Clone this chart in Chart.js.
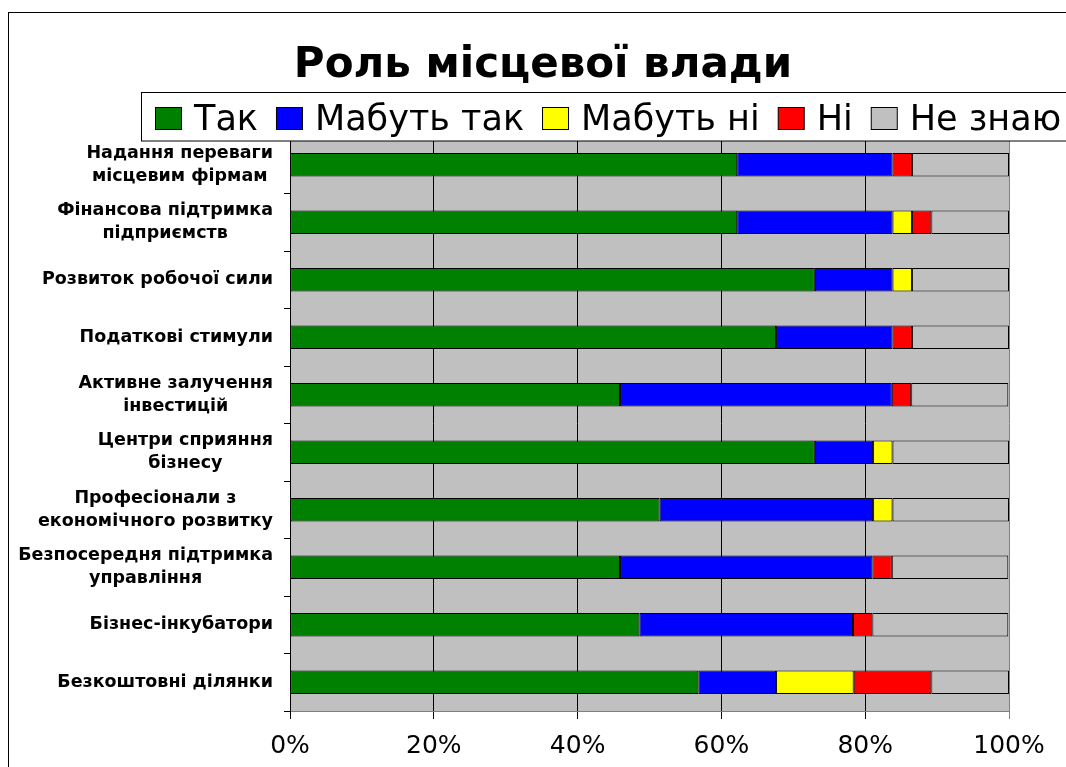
<!DOCTYPE html>
<html><head><meta charset="utf-8">
<script src="https://cdn.jsdelivr.net/npm/chart.js@4/dist/chart.umd.min.js"></script>
<style>html,body{margin:0;padding:0;background:#fff;}#wrap{width:1066px;height:767px;}</style>
</head><body><div id="wrap"><canvas id="c" width="1066" height="767"></canvas></div>
<script>
const chartTitle = 'Роль місцевої влади';
const categories = [
  ['Надання переваги', 'місцевим фірмам'],
  ['Фінансова підтримка', 'підприємств'],
  ['Розвиток робочої сили'],
  ['Податкові стимули'],
  ['Активне залучення', 'інвестицій'],
  ['Центри сприяння', 'бізнесу'],
  ['Професіонали з', 'економічного розвитку'],
  ['Безпосередня підтримка', 'управління'],
  ['Бізнес-інкубатори'],
  ['Безкоштовні ділянки']
];
const seriesNames = ['Так', 'Мабуть так', 'Мабуть ні', 'Ні', 'Не знаю'];
const yesValues         = [62.2, 62.2, 73.0, 67.6, 45.9, 73.0, 51.4, 45.9, 48.6, 56.8];
const probablyYesValues = [21.6, 21.6, 10.8, 16.2, 37.8,  8.1, 29.7, 35.1, 29.7, 10.8];
const probablyNoValues  = [ 0.0,  2.7,  2.7,  0.0,  0.0,  2.7,  2.7,  0.0,  0.0, 10.8];
const noValues          = [ 2.7,  2.7,  0.0,  2.7,  2.7,  0.0,  0.0,  2.7,  2.7, 10.8];
const dontKnowValues    = [13.5, 10.8, 13.5, 13.5, 13.5, 16.2, 16.2, 16.2, 18.9, 10.8];
const xTickLabels = ['0%', '20%', '40%', '60%', '80%', '100%'];
const seriesColors = ['#008000', '#0000FF', '#FFFF00', '#FF0000', '#C0C0C0'];

const seriesValues = [yesValues, probablyYesValues, probablyNoValues, noValues, dontKnowValues];
const FONT = "'DejaVu Sans', 'Liberation Sans', Arial, sans-serif";
Chart.defaults.font.family = FONT;

const deco = {
  id: 'deco',
  beforeDraw(chart) {
    const { ctx, chartArea: a } = chart;
    ctx.save();
    ctx.fillStyle = '#fff';
    ctx.fillRect(0, 0, chart.width, chart.height);
    ctx.strokeStyle = '#000';
    ctx.lineWidth = 1;
    ctx.strokeRect(8.5, 12.5, chart.width + 40, chart.height + 40);
    ctx.fillStyle = '#C0C0C0';
    ctx.fillRect(a.left, a.top, a.right - a.left, a.bottom - a.top);
    ctx.restore();
  },
  afterDraw(chart) {
    const { ctx } = chart;
    const ys = chart.scales.y;
    ctx.save();
    // category labels: block right-aligned, lines centred within block
    ctx.font = 'bold 17.5px ' + FONT;
    ctx.fillStyle = '#000';
    ctx.textAlign = 'center';
    ctx.textBaseline = 'middle';
    chart.data.labels.forEach((lab, i) => {
      const lines = Array.isArray(lab) ? lab : [lab];
      const w = Math.max(...lines.map(l => ctx.measureText(l).width));
      const cx = 273 - w / 2;
      const cy = ys.getPixelForValue(i);
      lines.forEach((l, j) => {
        ctx.fillText(l, cx, cy + (j - (lines.length - 1) / 2) * 23);
      });
    });
    // title
    ctx.font = 'bold 42px ' + FONT;
    ctx.textBaseline = 'alphabetic';
    ctx.fillText(chartTitle, 543, 77);
    // legend frame
    ctx.fillStyle = '#fff';
    ctx.fillRect(141.5, 92.5, 1000, 48.5);
    ctx.strokeStyle = '#000';
    ctx.lineWidth = 1;
    ctx.strokeRect(141.5, 92.5, 1000, 48.5);
    // legend items
    ctx.font = '35px ' + FONT;
    ctx.textAlign = 'left';
    let x = 155;
    chart.data.datasets.forEach(ds => {
      ctx.fillStyle = ds.backgroundColor;
      ctx.fillRect(x + 0.5, 107.5, 26, 22);
      ctx.strokeStyle = '#000';
      ctx.strokeRect(x + 0.5, 107.5, 26, 22);
      ctx.fillStyle = '#000';
      ctx.fillText(ds.label, x + 39, 130);
      x += 39 + ctx.measureText(ds.label).width + 18;
    });
    ctx.restore();
  }
};

new Chart(document.getElementById('c'), {
  type: 'bar',
  data: {
    labels: categories,
    datasets: seriesNames.map((name, k) => ({
      label: name,
      data: seriesValues[k].map(v => (v === 0 ? null : v)),
      backgroundColor: seriesColors[k],
      borderColor: '#000',
      borderWidth: 1,
      borderSkipped: false,
      categoryPercentage: 1,
      barPercentage: 0.41
    }))
  },
  options: {
    indexAxis: 'y',
    responsive: false,
    animation: false,
    devicePixelRatio: 1,
    layout: { padding: { top: 136, right: 57, left: 0, bottom: 0 } },
    plugins: { legend: { display: false }, title: { display: false }, tooltip: { enabled: false } },
    scales: {
      x: {
        stacked: true, min: 0, max: 100,
        afterFit(s) { s.height = 56; },
        ticks: { stepSize: 20, color: '#000', font: { size: 25 }, padding: 12, maxRotation: 0,
                 callback: (v, i) => xTickLabels[i] },
        grid: { color: c => (c.tick && c.tick.value === 100 ? '#808080' : '#000'), lineWidth: 1, tickLength: 8 },
        border: { color: '#808080', width: 1 }
      },
      y: {
        stacked: true,
        afterFit(s) { s.width = 290; },
        ticks: { display: false },
        grid: { drawOnChartArea: false, tickLength: 6, color: '#000', offset: true },
        border: { color: '#000', width: 1 }
      }
    }
  },
  plugins: [deco]
});
</script></body></html>
